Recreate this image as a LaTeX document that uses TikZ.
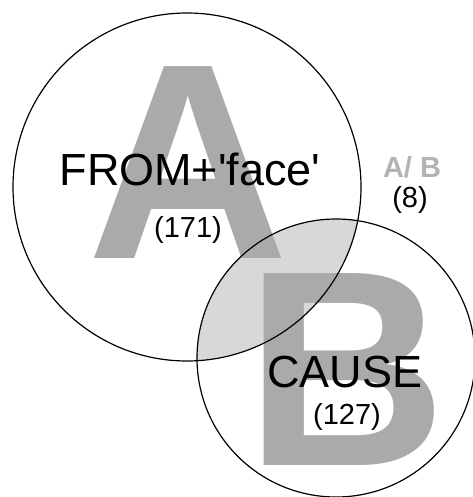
\documentclass[tikz,border=0pt]{standalone}
\usepackage{fontspec}
\setmainfont{Liberation Sans}
\usepackage{tikz}

\definecolor{lettergray}{HTML}{A9AAA9}
\definecolor{overlapgray}{HTML}{D9D8D7}
\definecolor{labelgray}{HTML}{B3B3B3}

\begin{document}
\begin{tikzpicture}[
  x=1pt,y=-1pt,
  ring/.style={circle,draw=black,line width=1.2pt,inner sep=0pt},
  bigletter/.style={inner sep=0pt,anchor=base,text=lettergray,
                    font=\fontsize{279}{279}\selectfont\bfseries},
  setname/.style={inner sep=0pt,anchor=base,font=\fontsize{45}{50}\selectfont},
  count/.style={inner sep=0pt,font=\fontsize{29}{32}\selectfont}
]
  \useasboundingbox (0,0) rectangle (472,497);

  % overlap of the two sets
  \begin{scope}
    \clip (187,187) circle (174);
    \fill[overlapgray] (336,358) circle (139);
  \end{scope}

  \node[bigletter] (letterA) at (188,258) {A};
  \node[bigletter] (letterB) at (346,465) {B};

  \node[ring,minimum size=348pt] (setA) at (187,187) {};
  \node[ring,minimum size=278pt] (setB) at (336,358) {};

  \node[setname] (nameA) at (190,185) {FROM+\textquotesingle face\textquotesingle};
  \node[count] (countA) at (188,230) {(171)};
  \node[setname] (nameB) at (345,387) {CAUSE};
  \node[count] (countB) at (347,417) {(127)};

  \node[inner sep=0pt,text=labelgray,font=\fontsize{29}{31}\selectfont\bfseries]
    (labelAB) at (412,167) {A/ B};
  \node[count] (countAB) at (410,200) {(8)};
\end{tikzpicture}
\end{document}
